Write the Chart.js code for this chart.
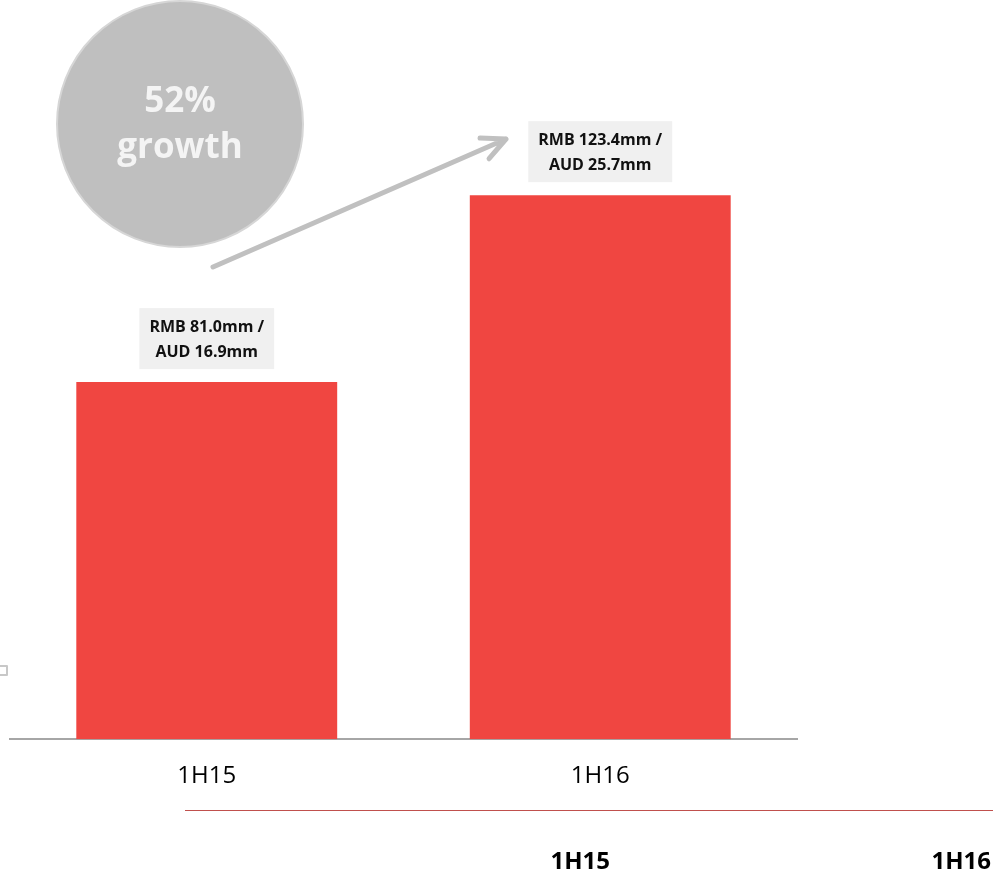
<!DOCTYPE html>
<html>
<head>
<meta charset="utf-8">
<script src="https://cdn.jsdelivr.net/npm/chart.js@4"></script>
<style>
  body { margin: 0; background: #fff; }
  canvas { display: block; }
</style>
</head>
<body>
<canvas id="revenueChart" width="993" height="875"></canvas>
<script>
var periods = ['1H15', '1H16'];
var revenueRmb = [81.0, 123.4];
var revenueAud = [16.9, 25.7];

var FONT = '"Open Sans", Lato, sans-serif';

// annotations: value boxes, growth bubble, arrow, footer row
var annotate = {
  id: 'annotate',
  afterDatasetsDraw: function (chart) {
    var ctx = chart.ctx;
    var meta = chart.getDatasetMeta(0);
    ctx.save();

    // value boxes above bars
    ctx.font = 'bold 16px ' + FONT;
    ctx.textAlign = 'center';
    ctx.textBaseline = 'middle';
    meta.data.forEach(function (bar, i) {
      var l1 = 'RMB ' + revenueRmb[i].toFixed(1) + 'mm /';
      var l2 = 'AUD ' + revenueAud[i].toFixed(1) + 'mm';
      var w = Math.max(ctx.measureText(l1).width, ctx.measureText(l2).width) + 20;
      var h = 61;
      var bottom = bar.y - 13;
      ctx.fillStyle = '#f0f0f0';
      ctx.fillRect(bar.x - w / 2, bottom - h, w, h);
      ctx.fillStyle = '#111';
      ctx.fillText(l1, bar.x, bottom - h + 19);
      ctx.fillText(l2, bar.x, bottom - h + 44);
    });

    // growth bubble
    ctx.beginPath();
    ctx.arc(180, 124, 123, 0, Math.PI * 2);
    ctx.fillStyle = '#bfbfbf';
    ctx.fill();
    ctx.lineWidth = 2;
    ctx.strokeStyle = '#d6d6d6';
    ctx.stroke();
    var growth = Math.round((revenueRmb[1] / revenueRmb[0] - 1) * 100);
    ctx.fillStyle = '#f4f4f4';
    ctx.font = 'bold 35px ' + FONT;
    ctx.fillText(growth + '%', 180, 102);
    ctx.fillText('growth', 180, 148);

    // arrow
    var x0 = 213, y0 = 267, x1 = 506, y1 = 139;
    var ang = Math.atan2(y1 - y0, x1 - x0);
    ctx.strokeStyle = '#c0c0c0';
    ctx.lineWidth = 5;
    ctx.lineCap = 'round';
    ctx.lineJoin = 'round';
    ctx.beginPath();
    ctx.moveTo(x0, y0);
    ctx.lineTo(x1, y1);
    ctx.moveTo(x1 - 26 * Math.cos(ang - 0.45), y1 - 26 * Math.sin(ang - 0.45));
    ctx.lineTo(x1, y1);
    ctx.lineTo(x1 - 26 * Math.cos(ang + 0.45), y1 - 26 * Math.sin(ang + 0.45));
    ctx.stroke();

    // small clipped box on the left edge
    ctx.lineWidth = 2;
    ctx.lineCap = 'butt';
    ctx.strokeStyle = '#c8c8c8';
    ctx.strokeRect(-4, 666, 11, 9);

    // footer rule and period headers
    ctx.strokeStyle = '#c0504d';
    ctx.lineWidth = 1;
    ctx.beginPath();
    ctx.moveTo(185, 810.5);
    ctx.lineTo(993, 810.5);
    ctx.stroke();
    ctx.fillStyle = '#000';
    ctx.font = 'bold 24px ' + FONT;
    ctx.textAlign = 'right';
    ctx.fillText(periods[0], 610, 862);
    ctx.fillText(periods[1], 991, 862);

    ctx.restore();
  }
};

new Chart(document.getElementById('revenueChart').getContext('2d'), {
  type: 'bar',
  data: {
    labels: periods,
    datasets: [{
      data: revenueRmb,
      backgroundColor: '#f04641',
      borderWidth: 0,
      barPercentage: 0.663,
      categoryPercentage: 1
    }]
  },
  options: {
    responsive: false,
    animation: false,
    layout: { padding: { left: 10, right: 196, top: 122, bottom: 61 } },
    plugins: { legend: { display: false }, tooltip: { enabled: false } },
    scales: {
      x: {
        grid: { display: false, drawTicks: false },
        border: { display: true, color: '#a6a6a6', width: 2 },
        ticks: { color: '#000', padding: 23, font: { family: FONT, size: 24 } }
      },
      y: {
        display: false,
        min: 0,
        max: 140
      }
    }
  },
  plugins: [annotate]
});
</script>
</body>
</html>
